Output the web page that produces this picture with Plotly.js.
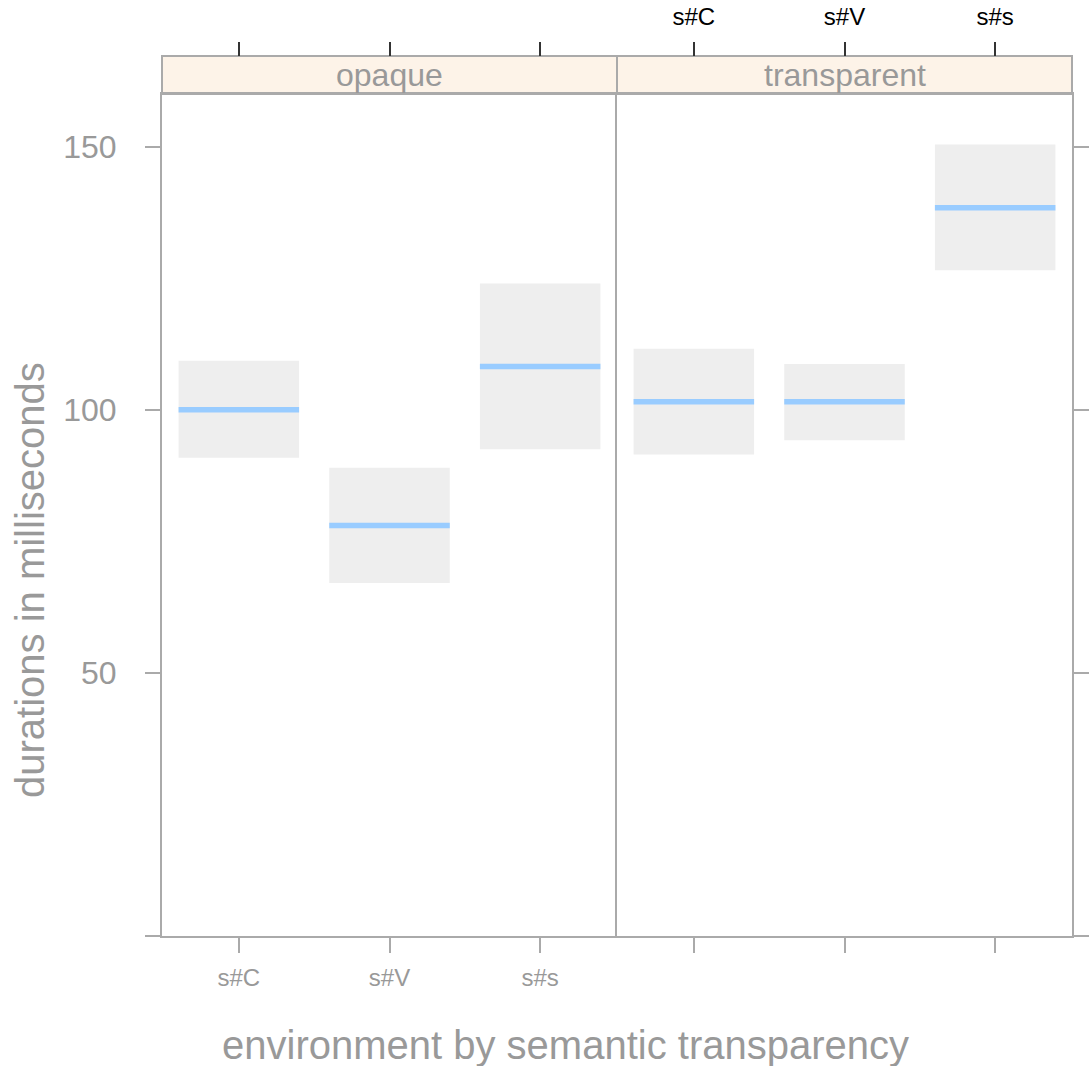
<!DOCTYPE html>
<html>
<head>
<meta charset="utf-8">
<script src="https://cdn.plot.ly/plotly-3.0.1.min.js"></script>
<style>html,body{margin:0;padding:0;background:#fff;}#chart{width:1089px;height:1066px;}</style>
</head>
<body>
<div id="chart"></div>
<script>
// ---- data ----
var categories = ['s#C', 's#V', 's#s'];
var panels = ['opaque', 'transparent'];
var opaqueFit   = [100.0, 78.0, 108.2];
var opaqueLower = [90.9, 67.1, 92.5];
var opaqueUpper = [109.3, 89.0, 124.0];
var transFit    = [101.5, 101.5, 138.4];
var transLower  = [91.5, 94.2, 126.5];
var transUpper  = [111.6, 108.7, 150.4];
var yTicks = [0, 50, 100, 150];
var yTickText = ['', '50', '100', '150'];
var xTitle = 'environment by semantic transparency';
var yTitle = 'durations in milliseconds';

// ---- styles ----
var FONT = '"Liberation Sans", Arial, sans-serif';
var GREY = '#999999';
var LINE = '#aaaaaa';
var BAND = '#eeeeee';
var FIT = '#99ccff';
var STRIP = '#fdf3e8';
var HALF = 0.4;
var pos = categories.map(function (c, i) { return i + 1; });

function bandTrace(lower, upper, xa, ya) {
  return {
    type: 'bar', x: pos, base: lower,
    y: upper.map(function (u, i) { return u - lower[i]; }),
    width: 2 * HALF, marker: {color: BAND, line: {width: 0}},
    xaxis: xa, yaxis: ya, hoverinfo: 'skip', showlegend: false
  };
}
function fitTrace(fit, xa, ya) {
  var xs = [], ys = [];
  fit.forEach(function (v, i) {
    xs.push(pos[i] - HALF, pos[i] + HALF, null);
    ys.push(v, v, null);
  });
  return {
    type: 'scatter', mode: 'lines', x: xs, y: ys,
    line: {color: FIT, width: 5.5}, xaxis: xa, yaxis: ya,
    hoverinfo: 'skip', showlegend: false
  };
}
function dummy(xa, ya) {
  return {type: 'scatter', mode: 'markers', x: pos, y: pos.map(function () { return null; }),
          xaxis: xa, yaxis: ya, hoverinfo: 'skip', showlegend: false};
}

var traces = [
  bandTrace(opaqueLower, opaqueUpper, 'x', 'y'),
  bandTrace(transLower, transUpper, 'x2', 'y2'),
  fitTrace(opaqueFit, 'x', 'y'),
  fitTrace(transFit, 'x2', 'y2'),
  dummy('x3', 'y'), dummy('x4', 'y2')
];

var W = 1089, H = 1066;
var mT = 56, mB = 130, mL = 162, mR = 17;
var plotH = H - mT - mB, plotW = W - mL - mR;
var yTop = (936 - 94) / plotH;
var xr = [0.49, 3.51];

function bottomX(domain, anchor, labels) {
  return {
    domain: domain, anchor: anchor, range: xr, fixedrange: true,
    tickmode: 'array', tickvals: pos, ticktext: categories,
    showticklabels: labels, tickfont: {family: FONT, size: 24, color: GREY},
    ticks: 'outside', ticklen: 15, tickwidth: 2, tickcolor: LINE,
    ticklabelstandoff: 4,
    showline: true, linecolor: LINE, linewidth: 2, mirror: true,
    showgrid: false, zeroline: false
  };
}
function topX(over, labels) {
  return {
    overlaying: over, side: 'top', anchor: 'free', position: 1, range: xr,
    tickmode: 'array', tickvals: pos, ticktext: categories,
    showticklabels: labels, tickfont: {family: FONT, size: 24, color: '#000000'},
    ticks: 'outside', ticklen: 14, tickwidth: 2, tickcolor: '#333333',
    ticklabelstandoff: 7,
    showline: false, showgrid: false, zeroline: false
  };
}
function yAx(anchor, side, labels, mirror) {
  return {
    domain: [0, yTop], anchor: anchor, side: side, range: [0, 160], fixedrange: true,
    tickmode: 'array', tickvals: yTicks, ticktext: yTickText,
    showticklabels: labels, tickfont: {family: FONT, size: 32, color: GREY},
    ticks: 'outside', ticklen: 15, tickwidth: 2, tickcolor: LINE,
    ticklabelstandoff: 22,
    showline: true, linecolor: LINE, linewidth: 2, mirror: mirror,
    showgrid: false, zeroline: false
  };
}

var annotations = panels.map(function (p, i) {
  return {text: p, xref: 'paper', yref: 'paper', x: i * 0.5 + 0.25, y: (yTop + 1) / 2,
          xanchor: 'center', yanchor: 'middle', showarrow: false,
          font: {family: FONT, size: 32, color: GREY}};
});
annotations.push({text: xTitle, xref: 'paper', yref: 'paper',
  x: (565 - mL) / plotW, y: -(1045 - (H - mB)) / plotH, xanchor: 'center', yanchor: 'middle',
  showarrow: false, font: {family: FONT, size: 40, color: GREY}});
annotations.push({text: yTitle, xref: 'paper', yref: 'paper', textangle: -90,
  x: (30 - mL) / plotW, y: ((H - mB) - 580) / plotH, xanchor: 'center', yanchor: 'middle',
  showarrow: false, font: {family: FONT, size: 40, color: GREY}});

var layout = {
  width: W, height: H,
  margin: {l: mL, r: mR, t: mT, b: mB, pad: 0},
  paper_bgcolor: '#ffffff', plot_bgcolor: '#ffffff',
  showlegend: false, barmode: 'overlay',
  font: {family: FONT, color: GREY},
  xaxis: bottomX([0, 0.5], 'y', true),
  xaxis2: bottomX([0.5, 1], 'y2', false),
  xaxis3: topX('x', false),
  xaxis4: topX('x2', true),
  yaxis: yAx('x', 'left', true, false),
  yaxis2: yAx('x2', 'right', false, true),
  shapes: panels.map(function (p, i) {
    return {type: 'rect', xref: 'paper', yref: 'paper', x0: i * 0.5, x1: (i + 1) * 0.5,
            y0: yTop, y1: 1, fillcolor: STRIP, line: {color: LINE, width: 2}, layer: 'below'};
  }),
  annotations: annotations
};

Plotly.newPlot('chart', traces, layout, {displayModeBar: false, staticPlot: true});
</script>
</body>
</html>
